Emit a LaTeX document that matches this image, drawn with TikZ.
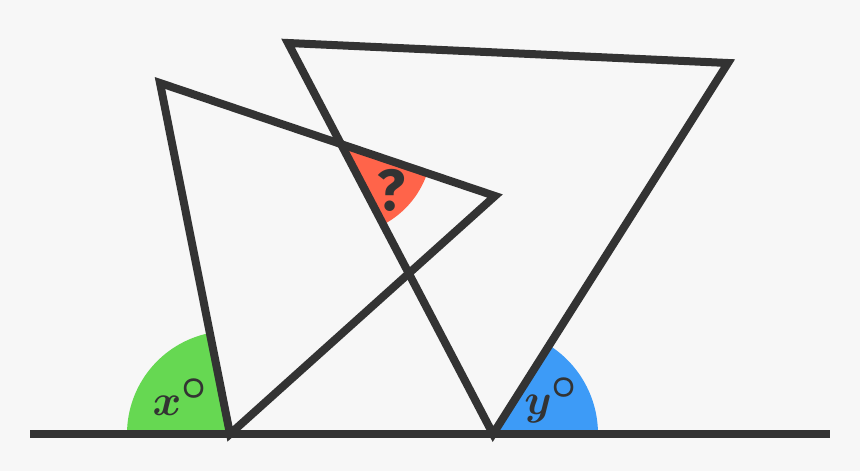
\documentclass[tikz,border=0pt]{standalone}
\usepackage{fontspec}
\newfontfamily\qfont{Fira Sans}
\usepackage{amsmath}
\usepackage{tikz}
\definecolor{ink}{HTML}{333333}
\definecolor{paper}{HTML}{F7F7F7}
\definecolor{xgreen}{HTML}{66D852}
\definecolor{yblue}{HTML}{3D9BF7}
\definecolor{qred}{HTML}{FF644A}

\begin{document}
\begin{tikzpicture}[x=0.02cm,y=0.02cm,
    edge/.style={draw=ink,line width=4.55pt,line join=miter},
    anglelabel/.style={text=ink,font=\fontsize{36}{40}\selectfont\boldmath}]
     \fill[paper] (0,0) rectangle (860,471);
     \coordinate (L) at (30,37);
     \coordinate (R) at (830,37);
     \coordinate (A) at (160,388);
     \coordinate (B) at (230,37);
     \coordinate (C) at (495,275);
     \coordinate (D) at (288,428);
     \coordinate (E) at (728,408);
     \coordinate (F) at (493,37);
     \coordinate (P) at (intersection of A--C and D--F);
     \fill[xgreen] (B) -- ++(180:103) arc[start angle=180,end angle=101.28,radius=103] -- cycle;
     \fill[yblue] (F) -- ++(0:105) arc[start angle=0,end angle=57.65,radius=105] -- cycle;
     \fill[qred] (P) -- ++(-62.34:91) arc[start angle=-62.34,end angle=-18.66,radius=91] -- cycle;
     \draw[edge] (A) -- (B) -- (C) -- cycle;
     \draw[edge] (D) -- (E) -- (F) -- cycle;
     \draw[edge] (L) -- (R);
     \node[anglelabel] (xlab) at (180,74) {$x^{\boldsymbol{\circ}}$};
     \node[anglelabel] (ylab) at (551,71) {$y^{\boldsymbol{\circ}}$};
     \node[anglelabel,font=\qfont\bfseries\fontsize{33}{36}\selectfont] (qlab) at (391,281) {?};
\end{tikzpicture}
\end{document}
